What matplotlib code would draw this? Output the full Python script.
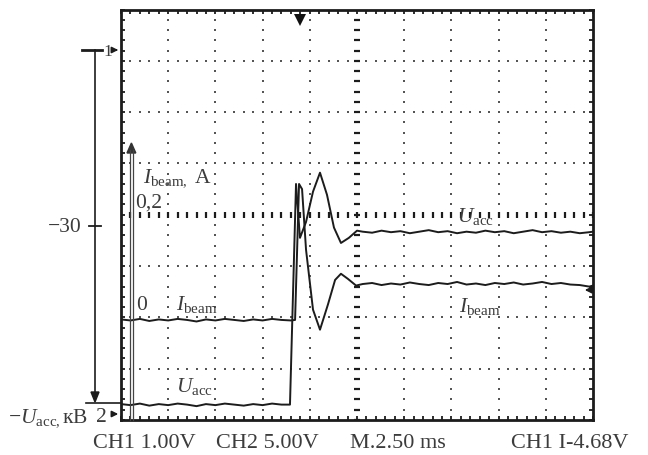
import numpy as np
import matplotlib.pyplot as plt
from matplotlib.ticker import MultipleLocator

plt.rcParams['font.family'] = ['Liberation Serif', 'DejaVu Serif']
plt.rcParams['mathtext.fontset'] = 'custom'
plt.rcParams['mathtext.rm'] = 'Liberation Serif'
plt.rcParams['mathtext.it'] = 'Liberation Serif:italic'

# time in ms (M 2.50 ms/div), trace level in screen divisions (0 = centre line)
t_beam = [0.0, 0.5, 1.0, 1.5, 2.0, 2.5, 3.0, 3.5, 4.0, 4.5, 5.0, 5.5, 6.0, 6.5,
          7.0, 7.5, 8.0, 8.5, 9.0, 9.22,
          9.43, 9.59, 9.80, 10.17, 10.54, 10.96, 11.34, 11.65, 12.02, 12.45,
          12.8, 13.3, 13.8, 14.3, 14.8, 15.3, 15.8, 16.3, 16.8, 17.3, 17.8,
          18.3, 18.8, 19.3, 19.8, 20.3, 20.8, 21.3, 21.8, 22.3, 22.8, 23.3,
          23.8, 24.3, 24.8, 25.0]
i_beam = [-2.04, -2.06, -2.03, -2.07, -2.04, -2.06, -2.03, -2.05, -2.08, -2.04,
          -2.06, -2.03, -2.05, -2.07, -2.04, -2.06, -2.03, -2.05, -2.06, -2.05,
          0.60, 0.50, -0.68, -1.85, -2.24, -1.75, -1.27, -1.15, -1.25, -1.38,
          -1.35, -1.33, -1.37, -1.34, -1.36, -1.32, -1.35, -1.37, -1.33, -1.35,
          -1.31, -1.36, -1.34, -1.37, -1.33, -1.35, -1.32, -1.36, -1.34, -1.31,
          -1.35, -1.33, -1.36, -1.37, -1.40, -1.38]

t_acc = [0.0, 0.5, 1.0, 1.5, 2.0, 2.5, 3.0, 3.5, 4.0, 4.5, 5.0, 5.5, 6.0, 6.5,
         7.0, 7.5, 8.0, 8.5, 8.95,
         9.27, 9.48, 9.80, 10.17, 10.54, 10.91, 11.28, 11.65, 12.07, 12.50,
         12.8, 13.3, 13.8, 14.3, 14.8, 15.3, 15.8, 16.3, 16.8, 17.3, 17.8,
         18.3, 18.8, 19.3, 19.8, 20.3, 20.8, 21.3, 21.8, 22.3, 22.8, 23.3,
         23.8, 24.3, 24.8, 25.0]
u_acc = [-3.69, -3.71, -3.68, -3.72, -3.69, -3.71, -3.68, -3.70, -3.73, -3.69,
         -3.71, -3.68, -3.70, -3.72, -3.69, -3.71, -3.68, -3.70, -3.70,
         0.60, -0.45, -0.14, 0.45, 0.82, 0.39, -0.25, -0.55, -0.45, -0.31,
         -0.33, -0.35, -0.31, -0.34, -0.32, -0.36, -0.33, -0.30, -0.34, -0.32,
         -0.36, -0.33, -0.35, -0.31, -0.34, -0.32, -0.36, -0.33, -0.30, -0.34,
         -0.32, -0.35, -0.33, -0.36, -0.34, -0.33]

footer = ['CH1 1.00V', 'CH2 5.00V', 'M.2.50 ms', 'CH1 I-4.68V']
footer_x = [93, 216, 350, 511]

W, H = 648, 455
ink = '#1c1c1c'
txt = '#3c3c3c'
dots = '#555555'

fig = plt.figure(figsize=(W / 100, H / 100), dpi=100)
x0, x1, y0, y1 = 121, 593, 9.5, 420
scr = fig.add_axes([x0 / W, 1 - y1 / H, (x1 - x0) / W, (y1 - y0) / H])
scr.set_xlim(0, 25)
scr.set_ylim(-4, 4)

# graticule: dotted lines, subdivisions of 1/5 div
sub_t = np.arange(0, 25.01, 0.5)
sub_v = np.arange(-4, 4.01, 0.2)
for gx in np.arange(2.5, 24, 2.5):
    if abs(gx - 12.5) < 0.01:
        continue
    scr.plot(np.full(len(sub_v), gx), sub_v, ls='none', marker='s', ms=1.8,
             mew=0, color=dots)
for gy in range(-3, 4):
    if gy == 0:
        continue
    scr.plot(sub_t, np.full(len(sub_t), gy), ls='none', marker='s', ms=1.8,
             mew=0, color=dots)
# centre lines with small tick marks
scr.plot(np.full(len(sub_v), 12.5), sub_v, ls='none', marker='_', ms=4.5,
         mew=1.6, color=ink)
scr.plot(sub_t, np.zeros(len(sub_t)), ls='none', marker='|', ms=4.5,
         mew=1.6, color=ink)

scr.xaxis.set_major_locator(MultipleLocator(2.5))
scr.xaxis.set_minor_locator(MultipleLocator(0.5))
scr.yaxis.set_major_locator(MultipleLocator(1))
scr.yaxis.set_minor_locator(MultipleLocator(0.2))
scr.tick_params(which='both', direction='in', top=True, right=True,
                length=3.2, width=1.3, color=ink,
                labelbottom=False, labelleft=False)
for s in scr.spines.values():
    s.set_linewidth(2)
    s.set_color(ink)

scr.plot(t_acc, u_acc, color=ink, lw=1.4)
scr.plot(t_beam, i_beam, color=ink, lw=1.4)

# overlay in pixel coordinates for the hand-drawn annotations
ov = fig.add_axes([0, 0, 1, 1], zorder=5)
ov.set_xlim(0, W)
ov.set_ylim(H, 0)
ov.axis('off')
ov.patch.set_alpha(0)

# I_beam axis (double line with arrow)
ov.plot([129.6, 129.6], [420, 150], color='#444', lw=0.9)
ov.plot([133.2, 133.2], [420, 150], color='#444', lw=0.9)
ov.fill([127, 135.8, 131.4], [153, 153, 143], color='#333')

# outer -U_acc axis
ov.plot([95, 95], [50, 395], color=ink, lw=1.2)
ov.fill([91, 99, 95], [392, 392, 402], color=ink)
ov.plot([82, 102], [50, 50], color=ink, lw=2)
ov.plot([89, 101], [226, 226], color=ink, lw=1.3)
ov.plot([86, 121], [403, 403], color=ink, lw=1.2)

# channel / trigger markers
ov.annotate('', xy=(121, 50), xytext=(112, 50),
            arrowprops=dict(arrowstyle='-|>', color=ink, lw=1.2, mutation_scale=9))
ov.annotate('', xy=(121, 414), xytext=(111, 414),
            arrowprops=dict(arrowstyle='-|>', color=ink, lw=1.2, mutation_scale=9))
ov.annotate('', xy=(582, 290), xytext=(593, 290),
            arrowprops=dict(arrowstyle='-|>', color=ink, lw=1.2, mutation_scale=10))
ov.plot(300, 19.5, marker='v', ms=8, color='#111', mew=0)

fs = 15.5
ov.text(103.5, 55.5, '1', fontsize=12.5, color=txt, va='baseline')
ov.text(82, 232, '\u221230', fontsize=fs, color=txt, ha='right', va='baseline')
ov.text(8, 422, '\u2212$U_{\\mathrm{acc,}}$кВ', fontsize=fs, color=txt,
        va='baseline')
ov.text(96, 422, '2', fontsize=fs, color=txt, va='baseline')

ov.text(143, 182, '$I_{\\mathrm{beam,}}$ A', fontsize=fs, color=txt, va='baseline')
ov.text(135, 208, '0,2', fontsize=fs, color=txt, va='baseline')
ov.text(136, 310, '0', fontsize=fs, color=txt, va='baseline')
ov.text(176, 310, '$I_{\\mathrm{beam}}$', fontsize=fs, color=txt, va='baseline')
ov.text(176, 392, '$U_{\\mathrm{acc}}$', fontsize=fs, color=txt, va='baseline')
ov.text(457, 222, '$U_{\\mathrm{acc}}$', fontsize=fs, color=txt, va='baseline')
ov.text(459, 312, '$I_{\\mathrm{beam}}$', fontsize=fs, color=txt, va='baseline')

for label, lx in zip(footer, footer_x):
    ov.text(lx, 448.5, label, fontsize=16, color=txt, va='baseline')

fig.savefig('out.png', dpi=100)
